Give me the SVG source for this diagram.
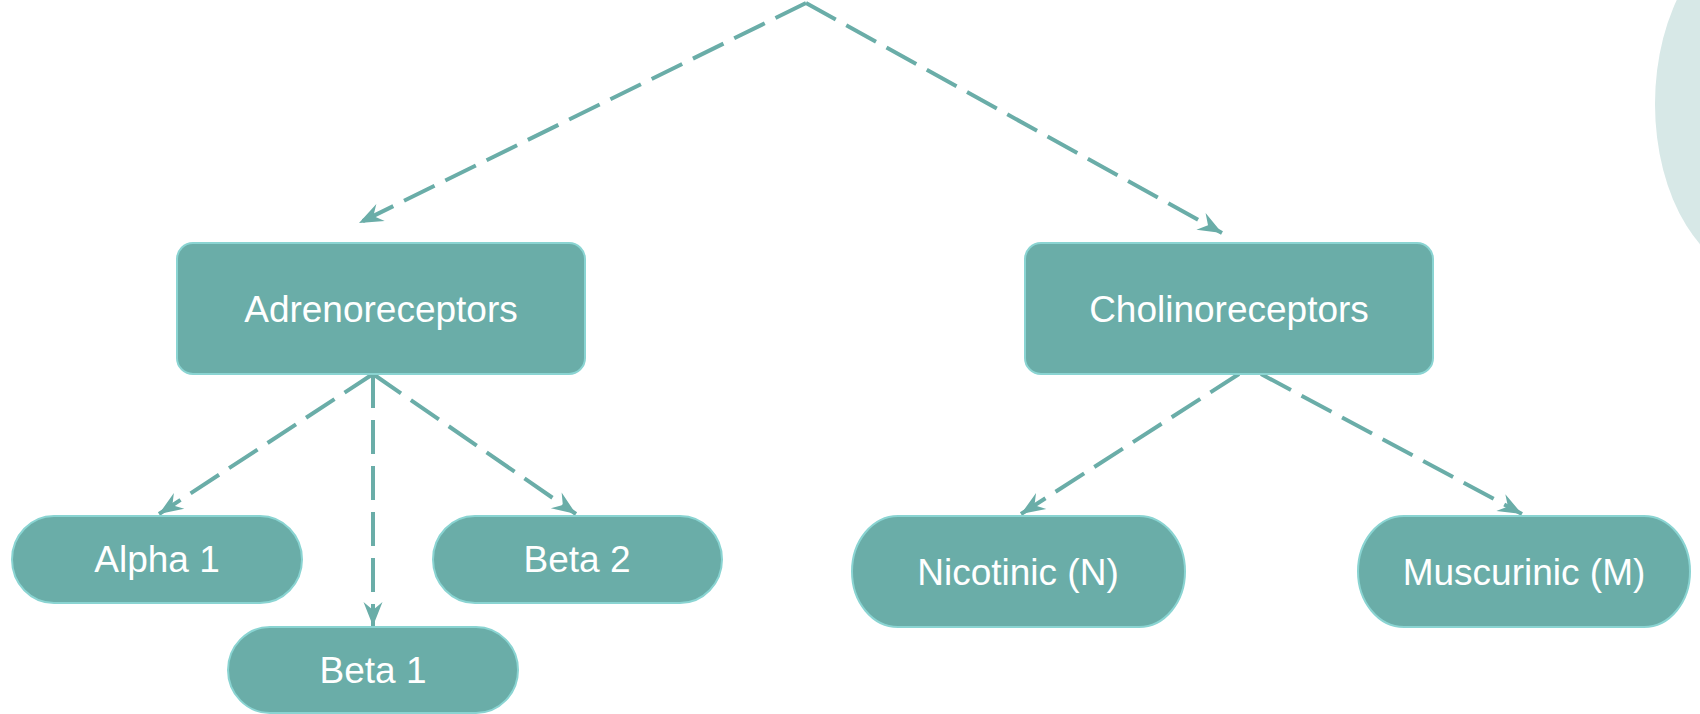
<svg xmlns="http://www.w3.org/2000/svg" width="1700" height="714" viewBox="0 0 1700 714">
<defs>
<style>
.node{fill:#6AADA8;stroke:#8AD4D2;stroke-width:2}
.lbl{fill:#ffffff;font-family:"Liberation Sans",Arial,sans-serif;font-size:37px;text-anchor:middle}
.edge{fill:none;stroke:#6AADA8;stroke-width:4;stroke-dasharray:34 12}
</style>
<marker id="arr" markerUnits="userSpaceOnUse" viewBox="-26 -12 28 24" refX="0" refY="0" markerWidth="28" markerHeight="24" orient="auto">
<path d="M0,0 L-24,-9.5 L-16,0 L-24,9.5 Z" fill="#6AADA8"/>
</marker>
</defs>
<rect width="1700" height="714" fill="#ffffff"/>
<ellipse cx="1762" cy="104" rx="107" ry="172" fill="#D7E8E7"/>
<g id="connectors">
<path class="edge" d="M806,3 L359,223" marker-end="url(#arr)"/>
<path class="edge" d="M806,3 L1222,233" marker-end="url(#arr)"/>
<path class="edge" d="M373,374 L159,514" marker-end="url(#arr)"/>
<path class="edge" d="M373,374 L373,626" marker-end="url(#arr)"/>
<path class="edge" d="M373,374 L576,514" marker-end="url(#arr)"/>
<path class="edge" d="M1239,374 L1021,514" marker-end="url(#arr)"/>
<path class="edge" d="M1261,374 L1522,514" marker-end="url(#arr)"/>
</g>
<g id="adrenoreceptors">
<rect class="node" x="177" y="243" width="408" height="131" rx="16" ry="16"/>
<text class="lbl" x="381" y="322">Adrenoreceptors</text>
</g>
<g id="cholinoreceptors">
<rect class="node" x="1025" y="243" width="408" height="131" rx="16" ry="16"/>
<text class="lbl" x="1229" y="322">Cholinoreceptors</text>
</g>
<g id="alpha1">
<rect class="node" x="12" y="516" width="290" height="87" rx="42" ry="43.5"/>
<text class="lbl" x="157" y="572">Alpha 1</text>
</g>
<g id="beta1">
<rect class="node" x="228" y="627" width="290" height="86" rx="42" ry="43"/>
<text class="lbl" x="373" y="683">Beta 1</text>
</g>
<g id="beta2">
<rect class="node" x="433" y="516" width="289" height="87" rx="42" ry="43.5"/>
<text class="lbl" x="577" y="572">Beta 2</text>
</g>
<g id="nicotinic">
<rect class="node" x="852" y="516" width="333" height="111" rx="46" ry="55.5"/>
<text class="lbl" x="1018" y="585">Nicotinic (N)</text>
</g>
<g id="muscurinic">
<rect class="node" x="1358" y="516" width="332" height="111" rx="46" ry="55.5"/>
<text class="lbl" x="1524" y="585">Muscurinic (M)</text>
</g>
</svg>
